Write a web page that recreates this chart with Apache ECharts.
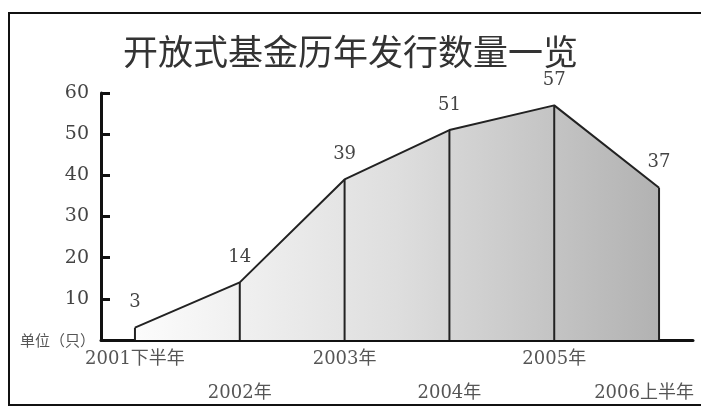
<!DOCTYPE html>
<html>
<head>
<meta charset="utf-8">
<script src="https://cdn.jsdelivr.net/npm/echarts@6/dist/echarts.min.js"></script>
<style>
html,body{margin:0;padding:0;background:#fff;}
#c{width:701px;height:411px;}
</style>
</head>
<body>
<div id="c"></div>
<script>
var titleText = '开放式基金历年发行数量一览';
var unitText = '单位（只）';
var categories = ['2001下半年', '2002年', '2003年', '2004年', '2005年', '2006上半年'];
var values = [3, 14, 39, 51, 57, 37];
var yTicks = [0, 10, 20, 30, 40, 50, 60];

var serif = "'DejaVu Serif', 'Liberation Serif', 'Noto Sans CJK SC', serif";
var points = values.map(function (v, i) { return [i, v]; });

var chart = echarts.init(document.getElementById('c'));
chart.setOption({
  animation: false,
  backgroundColor: '#fff',
  title: {
    text: titleText,
    left: 'center',
    top: 29,
    textStyle: { fontFamily: "'Noto Sans CJK SC', sans-serif", fontSize: 35, fontWeight: 'normal', color: '#333' }
  },
  graphic: [{
    type: 'rect',
    shape: { x: 9, y: 13, width: 700, height: 392 },
    style: { fill: 'none', stroke: '#111', lineWidth: 2 },
    silent: true
  }],
  grid: { left: 101, right: 8, top: 93, bottom: 71 },
  xAxis: {
    type: 'value',
    min: -0.324,
    max: 5.324,
    splitLine: { show: false },
    axisLine: { show: true, onZero: false, lineStyle: { color: '#111', width: 3 } },
    axisTick: { show: false },
    axisLabel: {
      customValues: [0, 1, 2, 3, 4, 5],
      margin: 10,
      formatter: function (v) {
        var i = Math.round(v);
        var t = categories[i];
        if (i === categories.length - 1) return '{c|' + t + '}';
        return i % 2 === 0 ? '{a|' + t + '}' : '{b|' + t + '}';
      },
      rich: {
        a: { fontFamily: serif, fontSize: 18, color: '#555' },
        b: { fontFamily: serif, fontSize: 18, color: '#555', padding: [34, 0, 0, 0] },
        c: { fontFamily: serif, fontSize: 18, color: '#555', padding: [34, 30, 0, 0] }
      }
    }
  },
  yAxis: {
    type: 'value',
    min: 0,
    max: 60,
    interval: 10,
    name: unitText,
    nameLocation: 'start',
    nameGap: 0,
    nameTextStyle: { fontFamily: "'Noto Sans CJK SC', sans-serif", fontSize: 15, color: '#555', align: 'right', verticalAlign: 'middle', padding: [0, 6, 4, 0] },
    splitLine: { show: false },
    axisLine: { show: true, onZero: false, lineStyle: { color: '#111', width: 3 } },
    axisTick: { show: true, inside: true, length: 9, lineStyle: { color: '#111', width: 3 } },
    axisLabel: {
      margin: 12,
      fontFamily: serif,
      fontSize: 19,
      color: '#444',
      formatter: function (v) { return v === 0 ? '' : String(v); }
    }
  },
  series: [{
    type: 'line',
    data: points,
    symbol: 'none',
    z: 3,
    lineStyle: { color: '#222', width: 2 },
    areaStyle: {
      origin: 'start',
      opacity: 1,
      color: {
        type: 'linear', x: 0, y: 0, x2: 1, y2: 0,
        colorStops: [
          { offset: 0, color: '#fcfcfc' },
          { offset: 0.5, color: '#dedede' },
          { offset: 1, color: '#b2b2b2' }
        ]
      }
    }
  }, {
    type: 'bar',
    data: points,
    barWidth: 2,
    z: 4,
    itemStyle: { color: '#222' },
    label: {
      show: true,
      position: 'top',
      distance: 16,
      fontFamily: serif,
      fontSize: 18,
      color: '#444'
    }
  }]
});
</script>
</body>
</html>
